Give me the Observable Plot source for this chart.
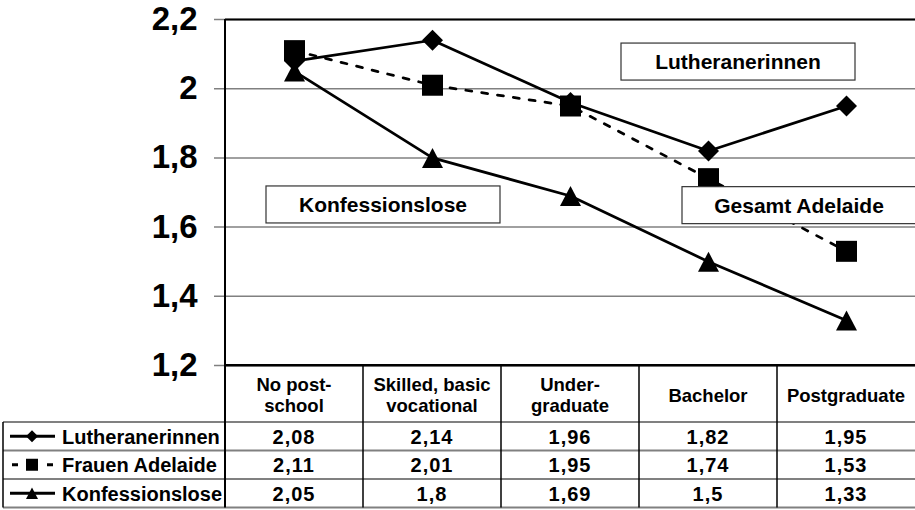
<!DOCTYPE html>
<html><head><meta charset="utf-8">
<script src="https://cdn.jsdelivr.net/npm/d3@7"></script>
<script src="https://cdn.jsdelivr.net/npm/@observablehq/plot@0.6"></script>
<style>
body{margin:0;background:#fff;}
#chart svg{display:block;font-family:"Liberation Sans",Arial,sans-serif;}
</style></head><body><div id="chart"></div>
<script>
// ---- data ----
const categories = ["No post-school", "Skilled, basic vocational", "Undergraduate", "Bachelor", "Postgraduate"];
const headerLines = [["No post-", "school"], ["Skilled, basic", "vocational"], ["Under-", "graduate"], ["Bachelor"], ["Postgraduate"]];
const seriesNames = ["Lutheranerinnen", "Frauen Adelaide", "Konfessionslose"];
const lutheranerinnen = [2.08, 2.14, 1.96, 1.82, 1.95];
const frauenAdelaide = [2.11, 2.01, 1.95, 1.74, 1.53];
const konfessionslose = [2.05, 1.8, 1.69, 1.5, 1.33];
const yTicks = [1.2, 1.4, 1.6, 1.8, 2.0, 2.2];
const annotationTexts = ["Lutheranerinnen", "Gesamt Adelaide", "Konfessionslose"];

const seriesValues = [lutheranerinnen, frauenAdelaide, konfessionslose];
const rows = seriesValues.map((vals, s) => vals.map((v, i) => ({series: seriesNames[s], cat: categories[i], value: v})));
const fmt = d => String(+d.toFixed(2)).replace(".", ",");

// ---- custom symbols (draw size = PI r^2) ----
const rOf = size => Math.sqrt(size / Math.PI);
const diamondSym = {draw(ctx, size) {const r = rOf(size); ctx.moveTo(0, -r); ctx.lineTo(r, 0); ctx.lineTo(0, r); ctx.lineTo(-r, 0); ctx.closePath();}};
const squareSym = {draw(ctx, size) {const r = rOf(size); ctx.rect(-r, -r, 2 * r, 2 * r);}};
const triangleSym = {draw(ctx, size) {const r = rOf(size); const h = r * 0.95; ctx.moveTo(0, -h); ctx.lineTo(r, h); ctx.lineTo(-r, h); ctx.closePath();}};
const symbols = [diamondSym, squareSym, triangleSym];
const dashes = [null, "6,10", null];

const chart = Plot.plot({
  width: 915, height: 510,
  marginLeft: 225, marginRight: 0, marginTop: 19, marginBottom: 145,
  x: {type: "point", domain: categories, padding: 0.5, axis: null},
  y: {domain: [1.2, 2.2], axis: null},
  style: {fontFamily: "'Liberation Sans', Arial, sans-serif", background: "white", color: "black", overflow: "visible"},
  marks: [
    Plot.ruleY(yTicks, {stroke: "#808080", strokeWidth: 1.5, insetLeft: -11}),
    Plot.ruleY([yTicks[yTicks.length - 1], yTicks[0]], {stroke: "black", strokeWidth: 2}),
    Plot.text(yTicks, {y: d => d, text: d => fmt(d), frameAnchor: "left", dx: -28, textAnchor: "end", fontSize: 33, fontWeight: "bold", fill: "black"}),
    ...rows.map((data, s) => Plot.line(data, {x: "cat", y: "value", stroke: "black", strokeWidth: 2.75, strokeDasharray: dashes[s]})),
    ...rows.map((data, s) => Plot.dot(data, {x: "cat", y: "value", symbol: symbols[s], r: 10.5, fill: "black", stroke: "none"}))
  ]
});
document.getElementById("chart").appendChild(chart);

// ---- table and annotations drawn with the plot's scales ----
const svg = d3.select(chart);
const xs = chart.scale("x"), ys = chart.scale("y");
const step = xs.apply(categories[1]) - xs.apply(categories[0]);
const left = xs.apply(categories[0]) - step / 2;
const right = xs.apply(categories[categories.length - 1]) + step / 2;
const yTop = ys.apply(2.2);
const yBase = ys.apply(1.2);
const headerH = 57, rowH = 28.5, tableLeft = 3;
const rowTop = i => yBase + headerH + i * rowH;
const bottom = rowTop(seriesNames.length);
const g = svg.append("g").attr("font-family", "'Liberation Sans', Arial, sans-serif").attr("font-weight", "bold").attr("text-anchor", "start").attr("fill", "black");

// horizontal row lines
for (let i = 0; i <= seriesNames.length; i++) {
  g.append("line").attr("x1", tableLeft).attr("x2", right).attr("y1", rowTop(i)).attr("y2", rowTop(i)).attr("stroke", "#808080").attr("stroke-width", 2);
}
// vertical lines
g.append("line").attr("x1", tableLeft).attr("x2", tableLeft).attr("y1", rowTop(0)).attr("y2", bottom).attr("stroke", "black").attr("stroke-width", 1.5);
g.append("line").attr("x1", left).attr("x2", left).attr("y1", yTop).attr("y2", bottom).attr("stroke", "black").attr("stroke-width", 2);
categories.forEach((c, k) => {
  if (k === 0) return;
  const x = xs.apply(c) - step / 2;
  g.append("line").attr("x1", x).attr("x2", x).attr("y1", yBase).attr("y2", bottom).attr("stroke", "black").attr("stroke-width", 1.5);
});
g.append("line").attr("x1", left).attr("x2", right).attr("y1", yBase).attr("y2", yBase).attr("stroke", "black").attr("stroke-width", 2);

// header
categories.forEach((c, k) => {
  const lines = headerLines[k];
  const base = lines.length === 2 ? [yBase + 26, yBase + 47] : [yBase + 37];
  lines.forEach((t, j) => g.append("text").attr("x", xs.apply(c)).attr("y", base[j]).attr("text-anchor", "middle").attr("font-size", 18.5).text(t));
});

// rows
seriesNames.forEach((name, s) => {
  const cy = rowTop(s) + rowH / 2;
  const kx = 32;
  if (s === 1) {
    g.append("line").attr("x1", 12).attr("x2", 18).attr("y1", cy).attr("y2", cy).attr("stroke", "black").attr("stroke-width", 3);
    g.append("line").attr("x1", 47).attr("x2", 53).attr("y1", cy).attr("y2", cy).attr("stroke", "black").attr("stroke-width", 3);
  } else {
    g.append("line").attr("x1", 10).attr("x2", 55).attr("y1", cy).attr("y2", cy).attr("stroke", "black").attr("stroke-width", 3);
  }
  g.append("path").attr("transform", `translate(${kx},${cy})`).attr("d", d3.symbol(symbols[s], Math.PI * 6 * 6)()).attr("fill", "black");
  g.append("text").attr("x", 62).attr("y", cy + 7.5).attr("text-anchor", "start").attr("font-size", 20).text(name);
  seriesValues[s].forEach((v, i) => {
    g.append("text").attr("x", xs.apply(categories[i])).attr("y", cy + 7.5).attr("text-anchor", "middle").attr("font-size", 20).attr("letter-spacing", 1).text(fmt(v));
  });
});

// annotation boxes
const annotationPlacement = [
  {cat: "Bachelor", value: 2.077, dx: 30},
  {cat: "Bachelor", value: 1.662, dx: 91},
  {cat: "Skilled, basic vocational", value: 1.664, dx: -49}
];
annotationTexts.forEach((t, k) => {
  const p = annotationPlacement[k];
  const cx = xs.apply(p.cat) + p.dx, cy = ys.apply(p.value);
  const bw = 234, bh = 37;
  g.append("rect").attr("x", cx - bw / 2).attr("y", cy - bh / 2).attr("width", bw).attr("height", bh).attr("fill", "white").attr("stroke", "#333").attr("stroke-width", 1.2);
  g.append("text").attr("x", cx).attr("y", cy + 7.5).attr("text-anchor", "middle").attr("font-size", 21).text(t);
});
</script>
</body></html>
